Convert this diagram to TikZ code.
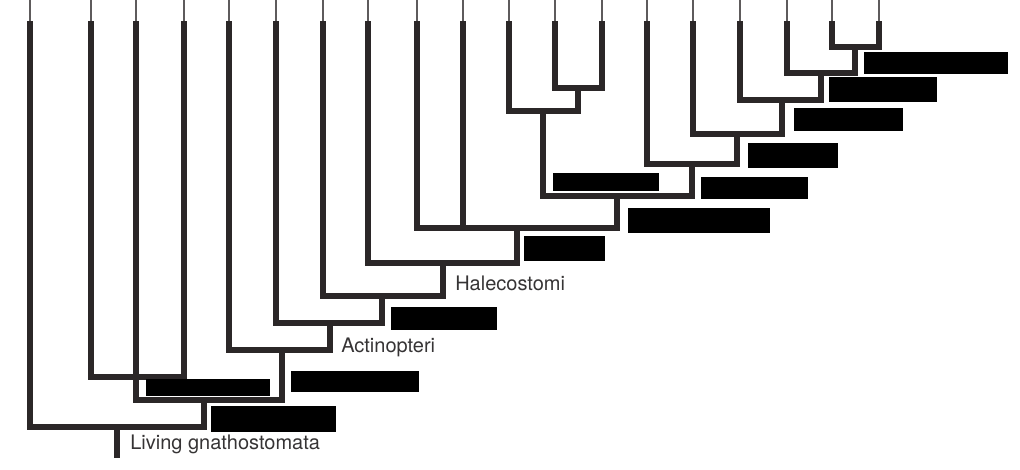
\documentclass[tikz,border=0pt]{standalone}
\usepackage{fontspec}
\setmainfont{TeX Gyre Heros}
\usetikzlibrary{positioning}
\definecolor{branch}{HTML}{2B2728}
\definecolor{tipgrey}{HTML}{5E5B5C}
\definecolor{labelgrey}{HTML}{363435}
\tikzset{
  clade/.style={draw=branch,line width=3.9pt,line cap=rect,line join=miter},
  tip/.style={draw=tipgrey,line width=1.1pt},
  taxon/.style={text=labelgrey,font=\fontsize{15}{18}\selectfont,inner sep=0pt,anchor=base west},
  redact/.style={fill=black}
}
\begin{document}
\begin{tikzpicture}[x=0.75pt,y=-0.75pt]
  \useasboundingbox (0,0) rectangle (1020,470);
  % leaves: thin tip on top, thick branch below
  \foreach \n/\x in {1/30,2/91,3/136,4/184,5/229,6/276,7/323,8/368,9/417,10/463,
                     11/509,12/555,13/602,14/647,15/693,16/740,17/787,18/832,19/879} {
    \coordinate (t\n) at (\x,0);
    \coordinate (l\n) at (\x,24);
    \draw[tip] (t\n) -- (l\n);
  }
  % internal nodes
  \coordinate (n18) at (855,47);
  \coordinate (n17) at (821,73);
  \coordinate (n16) at (782,100);
  \coordinate (n15) at (737,134);
  \coordinate (n14) at (692,164);
  \coordinate (na) at (578,88);
  \coordinate (nb) at (543,111);
  \coordinate (nc) at (617,196);
  \coordinate (nd) at (517,228);
  \coordinate (ne) at (443,263);
  \coordinate (nf) at (382,296);
  \coordinate (ng) at (330,323);
  \coordinate (nh) at (282,350);
  \coordinate (ni) at (136,377);
  \coordinate (nj) at (204,400);
  \coordinate (root) at (117,427);
  \coordinate (base) at (117,455);
  % branches
  \draw[clade] (l18) |- (n18) -| (l19);
  \draw[clade] (l17) |- (n17) -| (n18);
  \draw[clade] (l16) |- (n16) -| (n17);
  \draw[clade] (l15) |- (n15) -| (n16);
  \draw[clade] (l14) |- (n14) -| (n15);
  \draw[clade] (l12) |- (na) -| (l13);
  \draw[clade] (l11) |- (nb) -| (na);
  \draw[clade] (nb) |- (nc) -| (n14);
  \draw[clade] (l9) |- (nd) -| (nc);
  \draw[clade] (l10) -- (l10 |- nd);
  \draw[clade] (l8) |- (ne) -| (nd);
  \draw[clade] (l7) |- (nf) -| (ne);
  \draw[clade] (l6) |- (ng) -| (nf);
  \draw[clade] (l5) |- (nh) -| (ng);
  \draw[clade] (l2) |- (ni) -| (l4);
  \draw[clade] (l3) -- (ni);
  \draw[clade] (ni) |- (nj) -| (nh);
  \draw[clade] (l1) |- (root) -| (nj);
  \draw[clade] (root) -- (base);
  % clade names
  \node[taxon] (halecostomi) at (455,291) {Halecostomi};
  \node[taxon] (actinopteri) at (341,352) {Actinopteri};
  \node[taxon] (gnathostomata) at (130,449) {Living gnathostomata};
  % blacked-out labels
  \fill[redact] (864,52) rectangle (1008,74);
  \fill[redact] (829,77) rectangle (937,102);
  \fill[redact] (794,108) rectangle (903,131);
  \fill[redact] (748,143) rectangle (838,168);
  \fill[redact] (701,177) rectangle (808,199);
  \fill[redact] (553,173) rectangle (659,191);
  \fill[redact] (628,208) rectangle (770,233);
  \fill[redact] (524,236) rectangle (605,261);
  \fill[redact] (391,307) rectangle (497,330);
  \fill[redact] (291,371) rectangle (419,392);
  \fill[redact] (146,379) rectangle (270,396);
  \fill[redact] (211,406) rectangle (336,432);
\end{tikzpicture}
\end{document}
